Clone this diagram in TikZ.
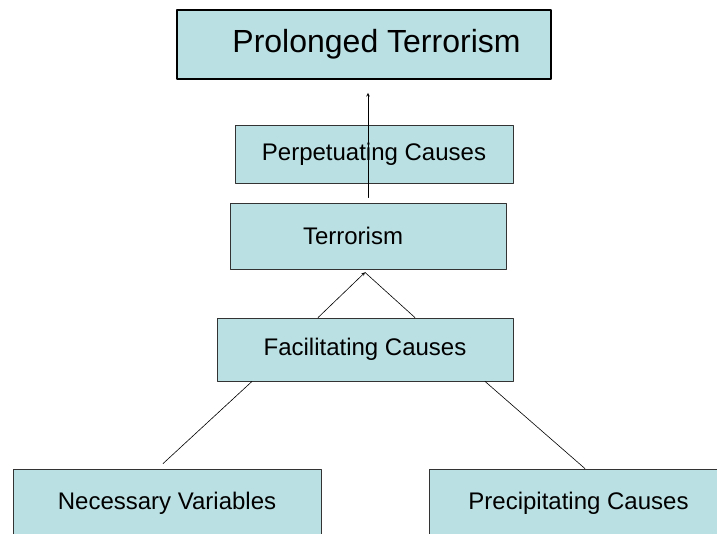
\documentclass[tikz,border=0pt]{standalone}
\usepackage{fontspec}
\setmainfont{Liberation Sans}
\usetikzlibrary{arrows}
\definecolor{boxfill}{HTML}{BBE0E3}

\begin{document}
\begin{tikzpicture}[line cap=round,line join=round,>=stealth,x=1pt,y=-1pt,
  causebox/.style={draw=black!80,fill=boxfill,line width=0.8pt,inner sep=0pt,font=\fontsize{24}{28}\selectfont},
  link/.style={line width=0.6pt,color=black}]
\useasboundingbox (0,0) rectangle (717,533);
\clip (0,0) rectangle (717,533);
\node[causebox,draw=black,line width=1.8pt,minimum width=374,minimum height=69,font=\fontsize{32}{38}\selectfont] (prolonged) at (364,44.5) {\hspace*{25pt}\raisebox{3pt}{Prolonged Terrorism}};
\node[causebox,minimum width=278,minimum height=58] (perpet) at (374,154) {\raisebox{-2pt}{Perpetuating Causes}};
\node[causebox,minimum width=276,minimum height=66] (terror) at (368,236) {Terrorism\hspace*{30pt}};
\node[causebox,minimum width=296,minimum height=63] (facil) at (365,349.5) {Facilitating Causes};
\node[causebox,minimum width=308,minimum height=68] (necessary) at (167,503) {\raisebox{-2pt}{Necessary Variables}};
\node[causebox,minimum width=299,minimum height=68] (precip) at (578.5,503) {\raisebox{-2pt}{Precipitating Causes}};
\draw[->,link,shorten <=5pt,shorten >=13pt] (terror.north) -- (terror.north |- prolonged.south);
\coordinate (apex) at ([yshift=-3pt]facil.north |- terror.south);
\draw[->,link] ([xshift=-47pt]facil.north) -- (apex);
\draw[link] ([xshift=50pt]facil.north) -- (apex);
\draw[link] ([xshift=-113pt]facil.south) -- ([xshift=-4pt,yshift=5pt]necessary.north);
\draw[link] ([xshift=120pt]facil.south) -- ([xshift=6.5pt]precip.north);
\end{tikzpicture}
\end{document}
